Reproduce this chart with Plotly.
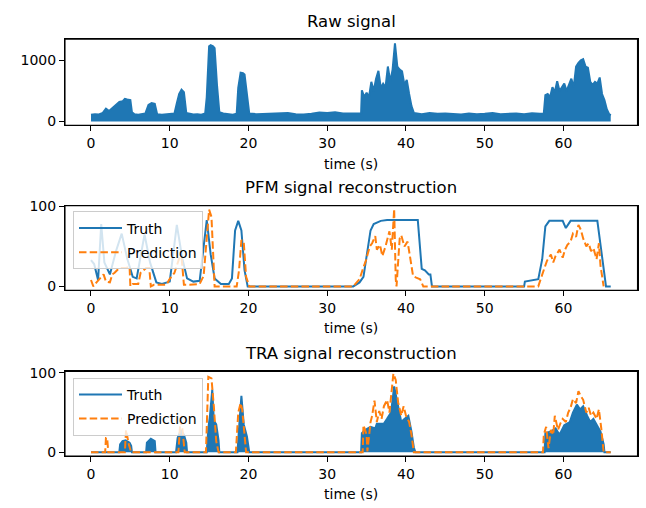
import plotly.graph_objects as go

# ---------------- data ----------------
raw_t = [0, 0.5, 1.0, 1.5, 1.9, 2.3, 2.8, 3.2, 3.6, 4.0, 4.3, 4.6, 5.0, 5.2, 5.5, 6.0, 6.5, 6.9,
         7.3, 7.7, 8.1, 8.4, 9.0, 9.5, 10.0, 10.6, 10.9, 11.2, 11.5, 11.8, 12.1, 12.5, 13.0, 13.5,
         14.0, 14.5, 14.7, 15.0, 15.2, 15.5, 15.7, 16.0, 16.3, 16.8, 17.5, 18.0, 18.5, 18.7, 19.0,
         19.3, 19.5, 19.8, 20.1, 21, 22, 23, 24, 25, 26, 27, 28, 29, 30, 31, 32, 33, 34, 34.3,
         34.4, 34.7, 35.0, 35.3, 35.6, 35.9, 36.2, 36.5, 36.8, 37.1, 37.4, 37.7, 38.0, 38.3, 38.6,
         38.9, 39.2, 39.5, 39.8, 40.1, 40.4, 40.7, 41.0, 41.5, 42, 43, 44, 45, 46, 47, 48, 49, 50,
         51, 52, 53, 54, 55, 56, 57, 57.5, 57.7, 58.0, 58.3, 58.6, 58.9, 59.2, 59.5, 59.8, 60.1,
         60.4, 60.7, 61.0, 61.3, 61.6, 61.9, 62.2, 62.5, 62.8, 63.1, 63.4, 63.7, 64.0, 64.3, 64.6,
         64.9, 65.2, 65.5, 65.8, 66.0]
raw_v = [110, 120, 115, 140, 210, 170, 230, 280, 320, 330, 370, 360, 350, 150, 120, 110, 115, 130,
         270, 300, 290, 120, 110, 115, 120, 130, 300, 450, 520, 480, 140, 125, 115, 120,
         110, 130, 400, 1230, 1250, 1230, 1200, 600, 150, 130, 120, 110, 125, 550, 800,
         790, 770, 400, 130, 120, 125, 120, 130, 140, 120, 115, 125, 145, 140, 150, 130, 125, 130, 130,
         510, 400, 470, 400, 650, 500, 700, 830, 550, 620, 560, 900, 650, 850, 1280,
         900, 850, 820, 600, 680, 450, 250, 140, 130, 120, 140, 125, 130, 120, 115, 130, 120, 125,
         140, 120, 125, 130, 120, 135, 125, 130, 430, 450, 400, 560, 480, 660, 500, 550, 620,
         500, 600, 700, 560, 900, 960, 1000, 1020, 900, 880, 650, 600, 650, 620, 720,
         450, 350, 200, 120, 100]

pfm_truth_t = [0, 0.4, 0.9, 1.3, 1.7, 2.4, 3.2, 3.9, 4.6, 5.3, 5.8, 6.8, 7.5, 8.3, 9.0, 10.0, 10.9,
               11.6, 12.2, 13.0, 13.8, 14.3, 14.7, 15.2, 15.7, 16.5, 17.5, 17.9, 18.3, 18.7, 19.1,
               19.5, 19.9, 33.3, 33.8, 34.1, 34.6, 35.0, 35.5, 35.9, 36.8, 37.6, 41.5, 42.0, 42.4,
               42.9, 43.1, 43.3, 55.0, 55.1, 56.8, 57.3, 57.7, 58.2, 59.9, 60.3, 60.9, 64.3, 64.7,
               65.2, 65.4, 66.0]
pfm_truth_v = [33, 28, 8, 78, 30, 15, 45, 66, 35, 12, 10, 65, 30, 5, 3, 6, 77,
               35, 10, 6, 7, 50, 83, 40, 10, 3, 3, 10, 70, 82, 70,
               20, 0, 0, 3, 5, 12, 36, 70, 78, 82, 83, 83, 22, 20,
               15, 15, 0, 0, 6, 9, 34, 75, 82, 82, 73, 82, 82, 50,
               9, 0, 0]

pfm_pred_t = [0, 0.3, 0.7, 1.1, 1.6, 1.9, 2.4, 2.7, 3.0, 3.6, 4.5, 4.9, 5.0, 5.3, 6.0, 6.3, 7.0,
              7.4, 7.6, 8.0, 9.6, 9.9, 10.6, 11.2, 11.5, 11.8, 12.5, 13.8, 14.3, 14.7, 15.0, 15.3,
              15.5, 15.7, 18.5, 18.8, 19.1, 19.4, 19.7, 20.1, 33.3, 33.7, 34.1, 34.6, 34.9, 35.4,
              35.7, 36.1, 36.3, 36.7, 37.0, 37.4, 37.9, 38.2, 38.5, 38.7, 38.8, 39.2, 39.4, 39.8,
              40.2, 40.5, 40.9, 41.3, 41.8, 42.2, 56.8, 57.1, 57.5, 57.9, 58.4, 58.7, 59.0, 59.5,
              59.9, 60.2, 60.5, 60.9, 61.2, 61.6, 61.9, 62.2, 62.5, 62.9, 63.2, 63.5, 63.8, 64.2,
              64.5, 64.7, 65.1]
pfm_pred_v = [8, 0, 5, 9, 15, 6, 5, 15, 17, 23, 23, 25, 0, 3, 3, 17, 23,
              23, 0, 2, 2, 8, 17, 35, 37, 2, 2, 3, 13, 60, 96, 87,
              50, 0, 0, 20, 58, 55, 12, 0, 0, 5, 9, 24, 32, 50,
              54, 63, 46, 52, 38, 50, 69, 46, 97, 9, 0, 60, 64, 50,
              56, 38, 13, 11, 9, 0, 0, 9, 22, 32, 40, 30, 38, 46,
              36, 46, 52, 56, 66, 62, 77, 71, 60, 50, 54, 44, 48, 34,
              54, 26, 0]

tra_truth_t = [0, 3.6, 3.7, 4.0, 4.4, 4.9, 5.1, 5.2, 7.0, 7.1, 7.6, 8.1, 8.2, 10.8, 11.0, 11.4,
               11.8, 12.1, 12.2, 14.7, 14.9, 15.1, 15.4, 15.6, 15.9, 16.2, 16.3, 18.6, 18.8, 19.1,
               19.4, 19.8, 20.1, 34.3, 34.4, 34.8, 35.5, 36.1, 36.3, 37.2, 37.6, 38.1, 38.5, 39.0,
               39.4, 39.8, 40.3, 40.7, 41.0, 41.2, 57.6, 57.7, 58.4, 59.0, 59.5, 60.1, 60.8, 61.2,
               61.7, 62.1, 62.5, 63.0, 63.4, 63.8, 64.3, 64.7, 65.1, 65.2, 66.0]
tra_truth_v = [0, 0, 10, 14, 15, 12, 8, 0, 0, 12, 17, 14, 0, 0, 18, 28,
               22, 12, 0, 0, 30, 45, 79, 40, 35, 15, 0, 0, 30, 71,
               35, 20, 0, 0, 24, 28, 32, 30, 36, 36, 42, 50, 83, 58,
               38, 42, 46, 26, 6, 0, 0, 24, 26, 30, 22, 34, 38, 50,
               60, 54, 58, 46, 38, 42, 32, 26, 10, 0, 0]

tra_pred_t = [0, 1.8, 1.9, 2.05, 2.2, 4.3, 4.45, 4.8, 5.1, 11.1, 11.35, 11.6, 11.9, 14.6, 14.9,
              15.3, 15.6, 15.9, 16.2, 18.4, 18.7, 19.0, 19.2, 19.5, 19.7, 34.5, 34.6, 35.0, 35.1,
              35.5, 35.7, 36.0, 36.3, 36.6, 36.9, 37.2, 37.6, 37.9, 38.1, 38.4, 38.7, 39.0, 39.4,
              39.7, 40.0, 40.4, 40.7, 41.0, 57.4, 57.5, 57.8, 58.1, 58.4, 58.7, 58.9, 59.3, 59.6,
              59.9, 60.3, 60.6, 60.9, 61.2, 61.6, 61.9, 62.2, 62.5, 62.9, 63.2, 63.5, 63.8, 64.2,
              64.5, 64.8, 65.1, 66.0]
tra_pred_v = [0, 0, 18, 18, 0, 0, 28, 10, 0, 0, 40, 30, 0, 0, 95,
              93, 58, 14, 0, 0, 50, 62, 54, 18, 0, 0, 34, 22, 1,
              38, 46, 65, 38, 52, 42, 58, 66, 50, 71, 99, 91, 63, 46,
              58, 46, 38, 22, 0, 0, 22, 32, 5, 28, 22, 46, 28, 36,
              42, 38, 50, 56, 67, 62, 77, 71, 66, 50, 56, 46, 50, 42,
              54, 30, 0, 0]

x_ticks = [0, 10, 20, 30, 40, 50, 60]
titles = ["Raw signal", "PFM signal reconstruction", "TRA signal reconstruction"]
x_label = "time (s)"

# ---------------- styling ----------------
BLUE = "#1f77b4"
ORANGE = "#ff7f0e"
FONT = "DejaVu Sans"
W, H = 646, 508
LW = 2
DASH = "7.5px,3.2px"

left_px, right_px = 65, 637.5
panels_px = [(33, 121), (203, 289.5), (372.5, 459)]  # top, bottom (px from top)


def ydom(top, bot):
    return [1 - bot / H, 1 - top / H]


fig = go.Figure()

# Panel 1: raw signal (dense oscillation drawn as its envelope band)
fig.add_trace(go.Scatter(x=raw_t, y=raw_v, mode="lines", fill="tozeroy",
                         line=dict(color=BLUE, width=LW), fillcolor=BLUE,
                         showlegend=False, xaxis="x", yaxis="y"))

# Panel 2: PFM
fig.add_trace(go.Scatter(x=pfm_truth_t, y=pfm_truth_v, mode="lines", name="Truth",
                         line=dict(color=BLUE, width=LW), legend="legend", legendgroup="t2",
                         xaxis="x2", yaxis="y2"))
fig.add_trace(go.Scatter(x=pfm_pred_t, y=pfm_pred_v, mode="lines", name="Prediction",
                         line=dict(color=ORANGE, width=LW, dash=DASH),
                         legend="legend", legendgroup="p2", xaxis="x2", yaxis="y2"))

# Panel 3: TRA
fig.add_trace(go.Scatter(x=tra_truth_t, y=tra_truth_v, mode="lines", fill="tozeroy",
                         line=dict(color=BLUE, width=LW), fillcolor=BLUE,
                         showlegend=False, xaxis="x3", yaxis="y3"))
fig.add_trace(go.Scatter(x=[None], y=[None], mode="lines", name="Truth",
                         line=dict(color=BLUE, width=LW), legend="legend2", legendgroup="t3",
                         xaxis="x3", yaxis="y3"))
fig.add_trace(go.Scatter(x=tra_pred_t, y=tra_pred_v, mode="lines", name="Prediction",
                         line=dict(color=ORANGE, width=LW, dash=DASH),
                         legend="legend2", legendgroup="p3", xaxis="x3", yaxis="y3"))

axis_common = dict(showline=True, mirror=True, linecolor="black", linewidth=1.1,
                   ticks="outside", ticklen=5, tickwidth=1.1, tickcolor="black",
                   showgrid=False, zeroline=False,
                   tickfont=dict(family=FONT, size=14, color="black"))

xdom = [left_px / W, right_px / W]
yranges = [[-64, 1346], [-4.8, 101.1], [-4.85, 101.8]]
ytickvals = [[0, 1000], [0, 100], [0, 100]]

layout = dict(width=W, height=H, margin=dict(l=0, r=0, t=0, b=0),
              paper_bgcolor="white", plot_bgcolor="white",
              font=dict(family=FONT, size=14, color="black"))
annotations = []
shapes = []
for i in range(3):
    sx = "" if i == 0 else str(i + 1)
    top, bot = panels_px[i]
    layout["xaxis" + sx] = dict(axis_common, domain=xdom, range=[-3.3, 69.4],
                                tickvals=x_ticks, anchor="y" + sx)
    layout["yaxis" + sx] = dict(axis_common, domain=ydom(top, bot), range=yranges[i],
                                tickvals=ytickvals[i], anchor="x" + sx)
    xr = "x" + sx + " domain"
    yr = "y" + sx + " domain"
    shapes.append(dict(type="rect", xref=xr, yref=yr, x0=0, x1=1, y0=0, y1=1,
                       line=dict(color="black", width=1.1), fillcolor="rgba(0,0,0,0)",
                       layer="above"))
    annotations.append(dict(text=titles[i], x=(left_px + right_px) / 2 / W, xref="paper",
                            y=1 - (top - 18) / H, yref="paper", xanchor="center",
                            yanchor="middle", showarrow=False,
                            font=dict(family=FONT, size=16.5, color="black")))
    annotations.append(dict(text=x_label, x=(left_px + right_px) / 2 / W, xref="paper",
                            y=1 - (bot + 39) / H, yref="paper", xanchor="center",
                            yanchor="middle", showarrow=False,
                            font=dict(family=FONT, size=14, color="black")))

legend_common = dict(bgcolor="rgba(255,255,255,0.8)", bordercolor="#cccccc", borderwidth=1,
                     font=dict(family=FONT, size=14, color="black"),
                     xanchor="left", yanchor="top", tracegroupgap=3, itemwidth=43)
layout["legend"] = dict(legend_common, x=73 / W, y=1 - 209 / H)
layout["legend2"] = dict(legend_common, x=73 / W, y=1 - 379 / H)
layout["annotations"] = annotations
layout["shapes"] = shapes

fig.update_layout(**layout)
fig.write_html("out.html",
               config={"displayModeBar": False},
               post_script="document.body.style.margin='0';"
                           "document.body.style.overflow='hidden';")
